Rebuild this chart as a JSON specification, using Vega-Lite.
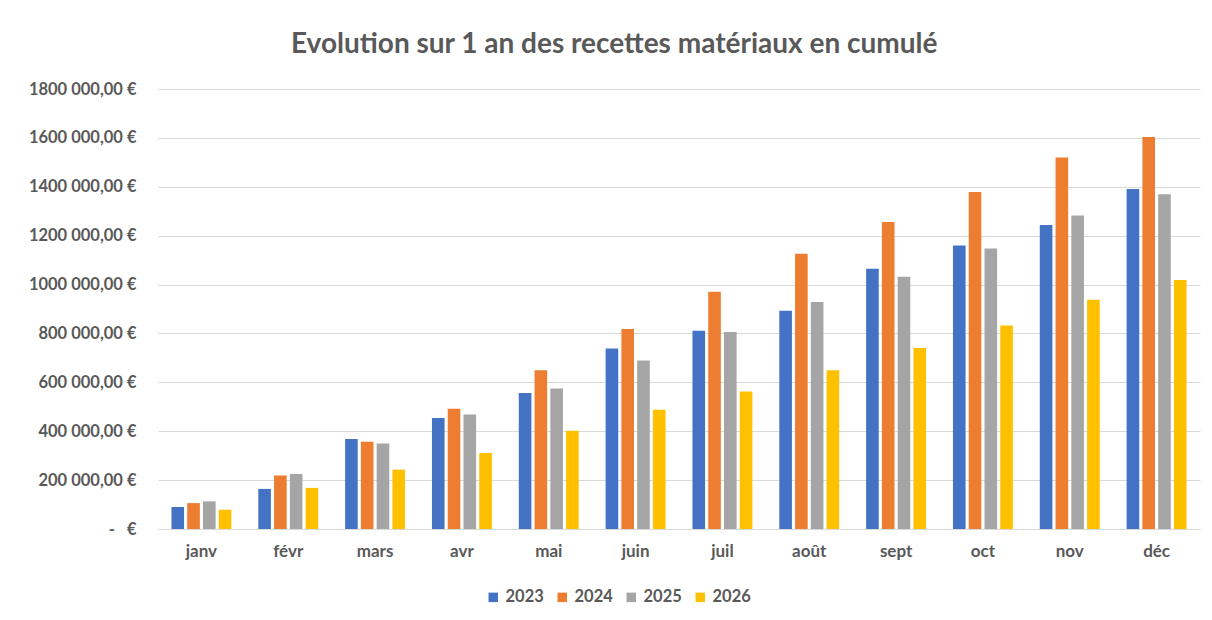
{
  "$schema": "https://vega.github.io/schema/vega-lite/v6.json",
  "autosize": {"type": "none"},
  "width": 1042,
  "height": 440,
  "padding": {"left": 158, "top": 89, "right": 12, "bottom": 91},
  "background": "white",
  "title": {
    "text": "Evolution sur 1 an des recettes matériaux en cumulé",
    "frame": "bounds",
    "anchor": "middle",
    "font": "Lato",
    "fontSize": 28,
    "fontWeight": "bold",
    "color": "#595959",
    "offset": 22
  },
  "data": {
    "values": [
      {"mois": "janv", "annee": "2023", "valeur": 90000},
      {"mois": "janv", "annee": "2024", "valeur": 106000},
      {"mois": "janv", "annee": "2025", "valeur": 113000},
      {"mois": "janv", "annee": "2026", "valeur": 79000},
      {"mois": "févr", "annee": "2023", "valeur": 164000},
      {"mois": "févr", "annee": "2024", "valeur": 219000},
      {"mois": "févr", "annee": "2025", "valeur": 225000},
      {"mois": "févr", "annee": "2026", "valeur": 168000},
      {"mois": "mars", "annee": "2023", "valeur": 368000},
      {"mois": "mars", "annee": "2024", "valeur": 357000},
      {"mois": "mars", "annee": "2025", "valeur": 350000},
      {"mois": "mars", "annee": "2026", "valeur": 243000},
      {"mois": "avr", "annee": "2023", "valeur": 454000},
      {"mois": "avr", "annee": "2024", "valeur": 492000},
      {"mois": "avr", "annee": "2025", "valeur": 468000},
      {"mois": "avr", "annee": "2026", "valeur": 311000},
      {"mois": "mai", "annee": "2023", "valeur": 556000},
      {"mois": "mai", "annee": "2024", "valeur": 649000},
      {"mois": "mai", "annee": "2025", "valeur": 575000},
      {"mois": "mai", "annee": "2026", "valeur": 402000},
      {"mois": "juin", "annee": "2023", "valeur": 738000},
      {"mois": "juin", "annee": "2024", "valeur": 818000},
      {"mois": "juin", "annee": "2025", "valeur": 689000},
      {"mois": "juin", "annee": "2026", "valeur": 488000},
      {"mois": "juil", "annee": "2023", "valeur": 811000},
      {"mois": "juil", "annee": "2024", "valeur": 971000},
      {"mois": "juil", "annee": "2025", "valeur": 806000},
      {"mois": "juil", "annee": "2026", "valeur": 563000},
      {"mois": "août", "annee": "2023", "valeur": 893000},
      {"mois": "août", "annee": "2024", "valeur": 1126000},
      {"mois": "août", "annee": "2025", "valeur": 929000},
      {"mois": "août", "annee": "2026", "valeur": 649000},
      {"mois": "sept", "annee": "2023", "valeur": 1065000},
      {"mois": "sept", "annee": "2024", "valeur": 1256000},
      {"mois": "sept", "annee": "2025", "valeur": 1032000},
      {"mois": "sept", "annee": "2026", "valeur": 740000},
      {"mois": "oct", "annee": "2023", "valeur": 1160000},
      {"mois": "oct", "annee": "2024", "valeur": 1379000},
      {"mois": "oct", "annee": "2025", "valeur": 1148000},
      {"mois": "oct", "annee": "2026", "valeur": 832000},
      {"mois": "nov", "annee": "2023", "valeur": 1244000},
      {"mois": "nov", "annee": "2024", "valeur": 1520000},
      {"mois": "nov", "annee": "2025", "valeur": 1283000},
      {"mois": "nov", "annee": "2026", "valeur": 938000},
      {"mois": "déc", "annee": "2023", "valeur": 1391000},
      {"mois": "déc", "annee": "2024", "valeur": 1604000},
      {"mois": "déc", "annee": "2025", "valeur": 1369000},
      {"mois": "déc", "annee": "2026", "valeur": 1019000}
    ]
  },
  "mark": {"type": "bar"},
  "encoding": {
    "x": {
      "field": "mois",
      "type": "nominal",
      "sort": ["janv", "févr", "mars", "avr", "mai", "juin", "juil", "août", "sept", "oct", "nov", "déc"],
      "scale": {"paddingInner": 0.31, "paddingOuter": 0.155},
      "axis": {
        "title": null,
        "labelAngle": 0,
        "ticks": false,
        "labelPadding": 14,
        "labelFont": "Lato",
        "labelFontSize": 17,
        "labelFontWeight": "bold",
        "labelColor": "#595959",
        "domainColor": "#d9d9d9",
        "domainWidth": 1
      }
    },
    "xOffset": {
      "field": "annee",
      "type": "nominal",
      "scale": {"paddingInner": 0.2}
    },
    "y": {
      "field": "valeur",
      "type": "quantitative",
      "scale": {"domain": [0, 1800000], "nice": false},
      "axis": {
        "title": null,
        "values": [0, 200000, 400000, 600000, 800000, 1000000, 1200000, 1400000, 1600000, 1800000],
        "labelExpr": "datum.value == 0 ? '-\u00a0\u00a0\u00a0€' : format(datum.value / 1000, 'd') + ' 000,00 €'",
        "ticks": false,
        "domain": false,
        "labelPadding": 22,
        "labelFont": "Lato",
        "labelFontSize": 16.5,
        "labelFontWeight": "bold",
        "labelColor": "#595959",
        "gridColor": "#d9d9d9",
        "gridWidth": 1
      }
    },
    "color": {
      "field": "annee",
      "type": "nominal",
      "scale": {
        "domain": ["2023", "2024", "2025", "2026"],
        "range": ["#4472C4", "#ED7D31", "#A5A5A5", "#FFC000"]
      },
      "legend": {
        "title": null,
        "orient": "none",
        "direction": "horizontal",
        "legendX": 327,
        "legendY": 500,
        "symbolType": "square",
        "symbolSize": 90,
        "symbolStrokeWidth": 0,
        "labelFont": "Lato",
        "labelFontSize": 16.5,
        "labelFontWeight": "bold",
        "labelColor": "#595959",
        "labelOffset": 4,
        "columnPadding": 10
      }
    }
  },
  "config": {
    "view": {"stroke": null}
  }
}
